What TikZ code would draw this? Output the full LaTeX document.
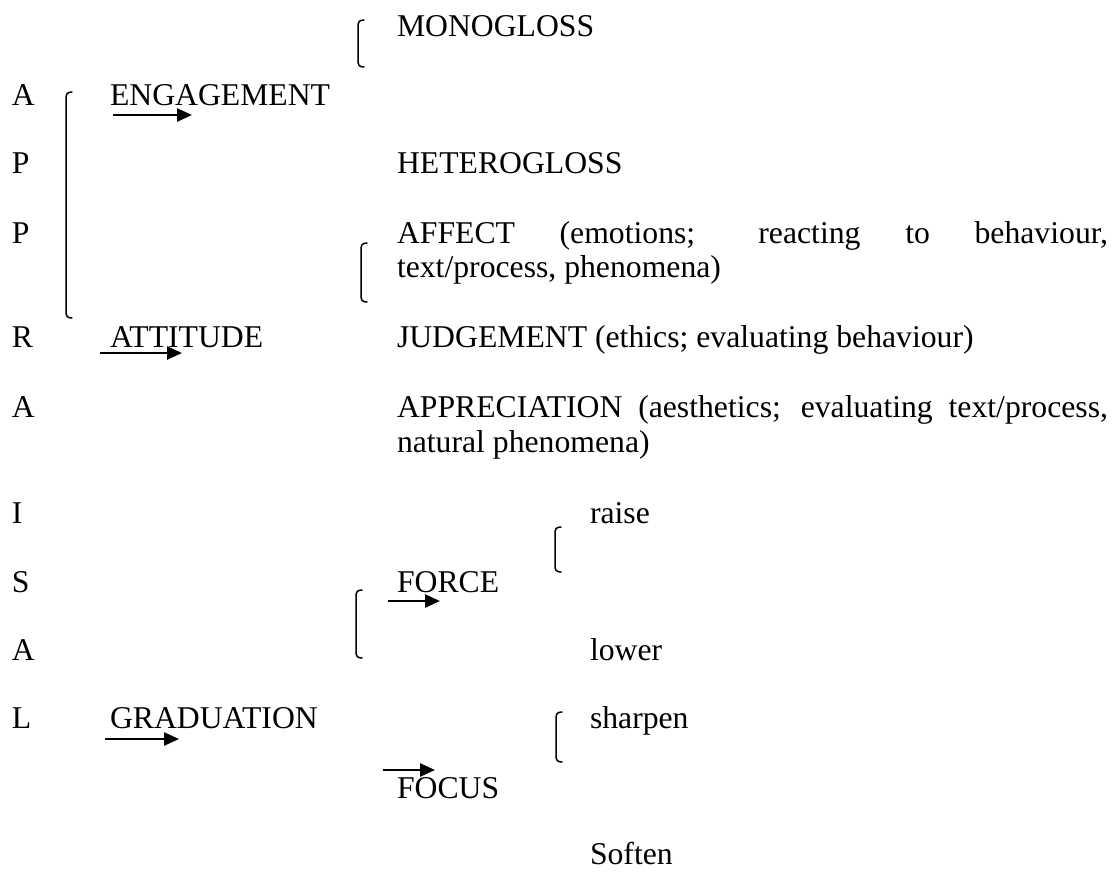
\documentclass[tikz,border=0pt]{standalone}
\usepackage{fontspec}
\setmainfont{Liberation Serif}
\usetikzlibrary{arrows.meta}
\newcommand\mybrk[4]{% name, x, ytop, ybot
  \draw[brk] (#2+6,#3) .. controls (#2+1,#3) and (#2,#3+2) .. (#2,#3+7)
     -- (#2,#4-7) .. controls (#2,#4-2) and (#2+1,#4) .. (#2+6,#4);}
\begin{document}
\begin{tikzpicture}[x=1pt,y=-1pt,
  txt/.style={anchor=base west,inner sep=0pt,outer sep=0pt,font=\fontsize{31.7}{38}\selectfont},
  arr/.style={line width=2.5pt,-{Triangle[length=15pt,width=13pt]}},
  brk/.style={line width=1.5pt,line cap=round}]
\useasboundingbox (0,0) rectangle (1115,871);
% left column letters
\node[txt] (l1) at (12,105) {A};
\node[txt] (l2) at (12,173) {P};
\node[txt] (l3) at (12,243) {P};
\node[txt] (l4) at (12,347) {R};
\node[txt] (l5) at (12,417) {A};
\node[txt] (l6) at (12,523) {I};
\node[txt] (l7) at (12,592) {S};
\node[txt] (l8) at (12,660) {A};
\node[txt] (l9) at (12,728) {L};
% second column
\node[txt] (eng) at (110,105) {ENGAGEMENT};
\node[txt] (att) at (110,347) {ATTITUDE};
\node[txt] (gra) at (110,728) {GRADUATION};
% third column
\node[txt] (mono) at (397,36) {MONOGLOSS};
\node[txt] (hetero) at (397,173) {HETEROGLOSS};
\node[txt] (aff) at (397,243) {\makebox[711pt][s]{AFFECT (emotions; reacting to behaviour,}};
\node[txt] (aff2) at (397,277) {text/process, phenomena)};
\node[txt] (jud) at (397,347) {JUDGEMENT (ethics; evaluating behaviour)};
\node[txt] (app) at (397,417) {\makebox[711pt][s]{APPRECIATION (aesthetics; evaluating text/process,}};
\node[txt] (app2) at (397,452) {natural phenomena)};
\node[txt] (force) at (397,592) {FORCE};
\node[txt] (focus) at (397,798) {FOCUS};
% fourth column
\node[txt] (raise) at (590,523) {raise};
\node[txt] (lower) at (590,660) {lower};
\node[txt] (sharpen) at (590,728) {sharpen};
\node[txt] (soften) at (590,864) {Soften};
% arrows
\coordinate (ea) at (113,115); \coordinate (eb) at (192,115);
\coordinate (aa) at (100,353); \coordinate (ab) at (182,353);
\coordinate (fa) at (388,601); \coordinate (fb) at (440,601);
\coordinate (ga) at (105,739); \coordinate (gb) at (179,739);
\coordinate (ca) at (383,770); \coordinate (cb) at (435,770);
\draw[arr] (ea) -- (eb);
\draw[arr] (aa) -- (ab);
\draw[arr] (fa) -- (fb);
\draw[arr] (ga) -- (gb);
\draw[arr] (ca) -- (cb);
% brackets
\mybrk{b1}{358}{20}{67}
\mybrk{b2}{66}{92}{318}
\mybrk{b3}{361}{243}{302}
\mybrk{b4}{555}{527}{572}
\mybrk{b5}{356}{590}{658}
\mybrk{b6}{556}{712}{762}
\end{tikzpicture}
\end{document}
